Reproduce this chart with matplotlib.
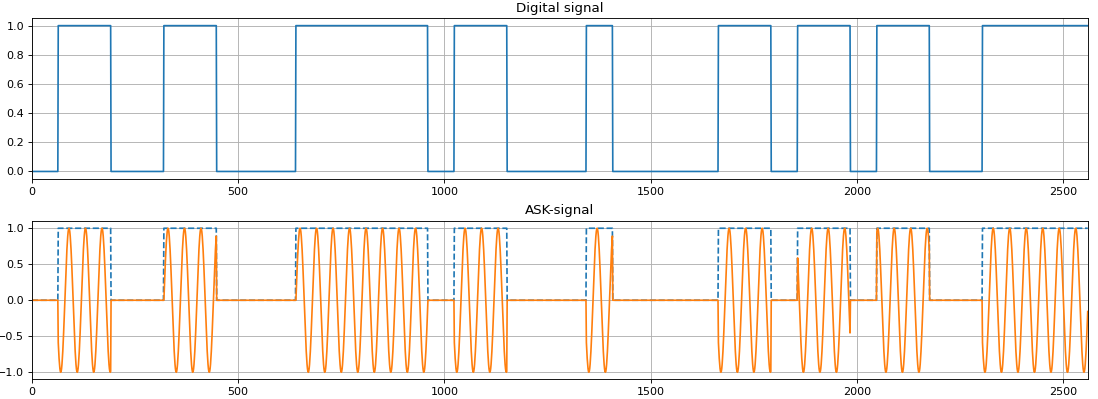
import numpy as np
import matplotlib
matplotlib.use("Agg")
import matplotlib.pyplot as plt

# bits transmitidos (64 muestras por bit) y periodo de la portadora en muestras
BITS = [0, 1, 1, 0, 0, 1, 1, 0, 0, 0,
        1, 1, 1, 1, 1, 0, 1, 1, 0, 0,
        0, 1, 0, 0, 0, 0, 1, 1, 0, 1,
        1, 0, 1, 1, 0, 0, 1, 1, 1, 1]
SAMPLES_PER_BIT = 64
CARRIER_PERIOD = 40

digital = np.repeat(BITS, SAMPLES_PER_BIT).astype(float)
n = np.arange(len(digital))
carrier = np.sin(2 * np.pi * n / CARRIER_PERIOD)
ask = digital * carrier

# dpi 80 -> textos y lineas a la escala del original
DPI = 80
fig = plt.figure(figsize=(1098 / DPI, 399 / DPI), dpi=DPI)
ax1 = fig.add_axes([0.029, 0.552, 0.962, 0.402])
ax2 = fig.add_axes([0.029, 0.049, 0.962, 0.397])

ax1.plot(n, digital, color="C0")
ax1.set_title("Digital signal")
ax1.set_xlim(0, len(digital))
ax1.grid(True)

ax2.plot(n, digital, "--", color="C0")
ax2.plot(n, ask, color="C1")
ax2.set_title("ASK-signal")
ax2.set_xlim(0, len(digital))
ax2.grid(True)

fig.savefig("out.png", dpi=DPI)
